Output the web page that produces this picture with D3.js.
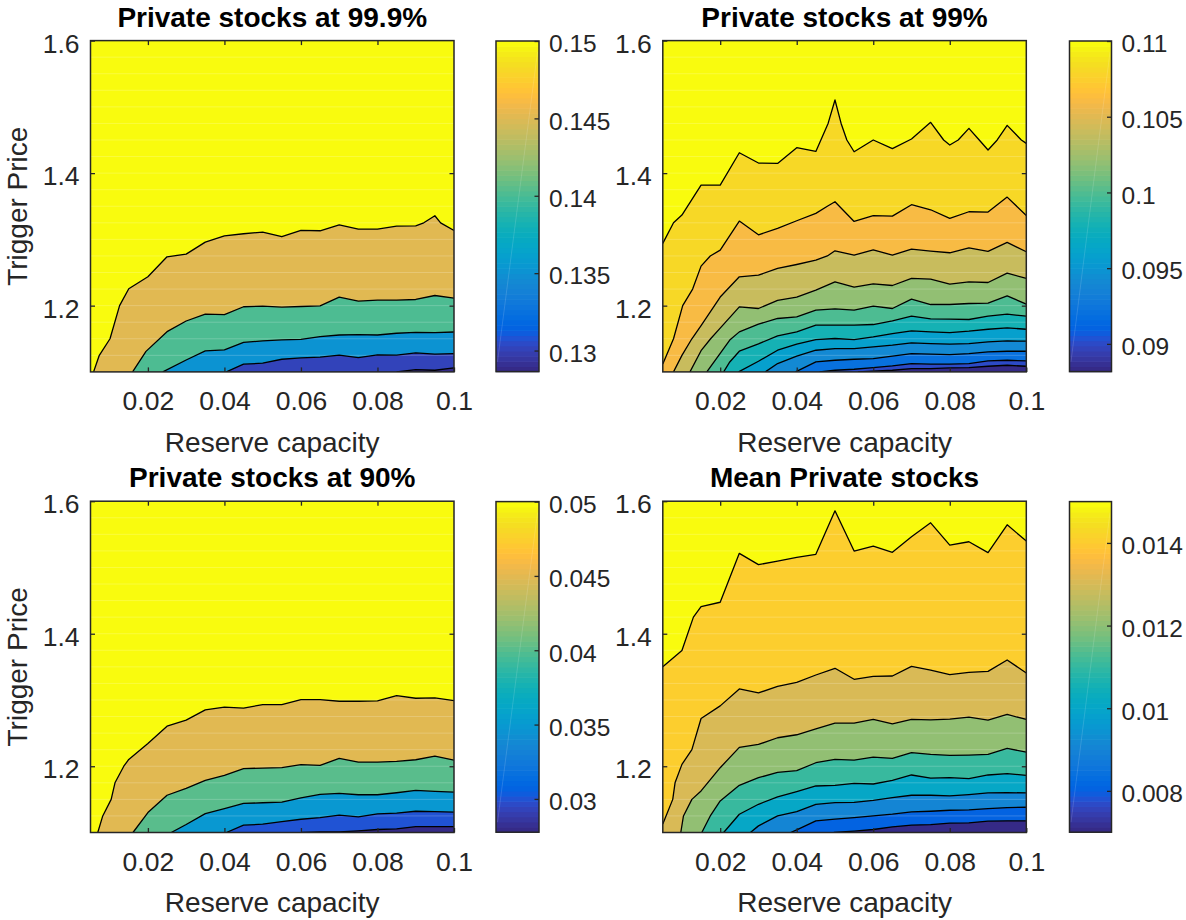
<!DOCTYPE html>
<html>
<head>
<meta charset="utf-8">
<script src="https://cdn.jsdelivr.net/npm/d3@7"></script>
<style>
  body { margin: 0; background: #fff; }
  svg text { font-family: "Liberation Sans", Arial, Helvetica, sans-serif; }
</style>
</head>
<body>
<svg id="chart" width="1186" height="920"></svg>
<script>
// ---------- shared axes ----------
const xDomain = [0.005, 0.1];          // reserve capacity
const yDomain = [1.1, 1.6];            // trigger price
const xTicks = [0.02, 0.04, 0.06, 0.08, 0.1];
const xTickLabels = ["0.02", "0.04", "0.06", "0.08", "0.1"];
const yTicks = [1.2, 1.4, 1.6];
const yTickLabels = ["1.2", "1.4", "1.6"];
const xLabel = "Reserve capacity";
const yLabel = "Trigger Price";

// ---------- Private stocks at 99.9% ----------
const q999Title = "Private stocks at 99.9%";
const q999Range = [0.12864, 0.15];
const q999Ticks = [0.13, 0.135, 0.14, 0.145, 0.15];
const q999TickLabels = ["0.13", "0.135", "0.14", "0.145", "0.15"];
const q999Levels = [0.13, 0.135, 0.14, 0.145, 0.15];
const q999Lines = [
  [[0.085,1.1],[0.09,1.1035],[0.095,1.1025],[0.1,1.106]],
  [[0.0405,1.1],[0.045,1.1116],[0.05,1.1131],[0.055,1.1191],[0.06,1.1211],[0.065,1.1222],[0.07,1.1252],[0.075,1.1217],[0.08,1.1257],[0.085,1.1252],[0.09,1.1287],[0.095,1.1267],[0.1,1.1277]],
  [[0.0239,1.1],[0.03,1.118],[0.035,1.1316],[0.04,1.1331],[0.045,1.1447],[0.05,1.1467],[0.055,1.1482],[0.06,1.1492],[0.065,1.1532],[0.07,1.1557],[0.075,1.1562],[0.08,1.1557],[0.085,1.1583],[0.09,1.1598],[0.095,1.1592],[0.1,1.1602]],
  [[0.016,1.1],[0.0195,1.131],[0.025,1.1607],[0.03,1.1768],[0.035,1.1873],[0.04,1.1863],[0.045,1.1983],[0.05,1.1992],[0.055,1.1977],[0.06,1.1987],[0.065,1.1997],[0.07,1.2128],[0.075,1.2067],[0.08,1.2083],[0.085,1.2083],[0.09,1.2093],[0.095,1.2153],[0.1,1.2113]],
  [[0.0058,1.1],[0.0073,1.125],[0.0101,1.15],[0.0126,1.2],[0.015,1.2255],[0.02,1.2435],[0.025,1.2737],[0.03,1.2777],[0.035,1.2959],[0.04,1.3054],[0.045,1.3085],[0.05,1.311],[0.055,1.304],[0.06,1.3135],[0.065,1.313],[0.07,1.322],[0.075,1.3155],[0.08,1.3155],[0.085,1.32],[0.09,1.3205],[0.0921,1.325],[0.095,1.3357],[0.0965,1.325],[0.1,1.3135]]
];

// ---------- Private stocks at 99% ----------
const q99Title = "Private stocks at 99%";
const q99Range = [0.08817, 0.11];
const q99Ticks = [0.09, 0.095, 0.1, 0.105, 0.11];
const q99TickLabels = ["0.09", "0.095", "0.1", "0.105", "0.11"];
const q99Levels = [0.09, 0.092, 0.094, 0.096, 0.098, 0.1, 0.102, 0.104, 0.106, 0.108, 0.11];
const q99Lines = [
  [[0.056,1.1],[0.065,1.1025],[0.07,1.105],[0.075,1.105],[0.08,1.106],[0.085,1.1065],[0.09,1.1085],[0.095,1.11],[0.1,1.1085]],
  [[0.046,1.1],[0.05,1.1025],[0.055,1.104],[0.06,1.1065],[0.065,1.1091],[0.07,1.1126],[0.075,1.1116],[0.08,1.1116],[0.085,1.1126],[0.09,1.1166],[0.095,1.1176],[0.1,1.1166]],
  [[0.0397,1.1],[0.045,1.1151],[0.05,1.1176],[0.055,1.1191],[0.06,1.1201],[0.065,1.1237],[0.07,1.1277],[0.075,1.1267],[0.08,1.1262],[0.085,1.1277],[0.09,1.1302],[0.095,1.1312],[0.1,1.1312]],
  [[0.0318,1.1],[0.035,1.1126],[0.04,1.1237],[0.045,1.1327],[0.05,1.1352],[0.055,1.1352],[0.06,1.1377],[0.065,1.1403],[0.07,1.1438],[0.075,1.1428],[0.08,1.1418],[0.085,1.1428],[0.09,1.1453],[0.095,1.1468],[0.1,1.1463]],
  [[0.0248,1.1],[0.03,1.1161],[0.035,1.1327],[0.04,1.1418],[0.045,1.1488],[0.05,1.1504],[0.055,1.1488],[0.06,1.1528],[0.065,1.1579],[0.07,1.1619],[0.075,1.1604],[0.08,1.1594],[0.085,1.1614],[0.09,1.1644],[0.095,1.1664],[0.1,1.1644]],
  [[0.0209,1.1],[0.0225,1.115],[0.025,1.1312],[0.03,1.1423],[0.035,1.1544],[0.04,1.1604],[0.045,1.1705],[0.05,1.1705],[0.055,1.1705],[0.06,1.1715],[0.065,1.177],[0.07,1.1841],[0.075,1.1801],[0.08,1.1796],[0.085,1.1791],[0.09,1.1841],[0.095,1.1871],[0.1,1.1841]],
  [[0.0165,1.1],[0.02,1.128],[0.0225,1.148],[0.025,1.1604],[0.03,1.172],[0.035,1.1806],[0.04,1.1831],[0.045,1.1931],[0.05,1.1952],[0.055,1.1931],[0.06,1.1992],[0.065,1.1957],[0.07,1.2098],[0.075,1.2017],[0.08,1.2017],[0.085,1.2032],[0.09,1.2037],[0.095,1.2148],[0.1,1.2022]],
  [[0.0121,1.1],[0.015,1.132],[0.0175,1.15],[0.02,1.166],[0.025,1.1982],[0.03,1.1957],[0.035,1.2078],[0.04,1.2128],[0.045,1.2234],[0.05,1.2359],[0.055,1.2279],[0.06,1.2329],[0.065,1.2304],[0.07,1.241],[0.075,1.24],[0.08,1.2324],[0.085,1.2359],[0.09,1.2349],[0.095,1.249],[0.1,1.241]],
  [[0.0078,1.1],[0.01,1.125],[0.0126,1.15],[0.015,1.17],[0.02,1.213],[0.025,1.2435],[0.03,1.246],[0.035,1.2561],[0.04,1.2621],[0.045,1.2687],[0.048,1.275],[0.05,1.2828],[0.055,1.2762],[0.06,1.2843],[0.065,1.2762],[0.07,1.2853],[0.075,1.2823],[0.08,1.2798],[0.085,1.2873],[0.09,1.2818],[0.095,1.2954],[0.1,1.2813]],
  [[0.005,1.112],[0.0078,1.15],[0.0102,1.2],[0.0128,1.225],[0.015,1.2596],[0.0174,1.275],[0.02,1.2838],[0.025,1.3276],[0.03,1.3069],[0.035,1.3165],[0.04,1.3281],[0.045,1.3392],[0.048,1.35],[0.05,1.3568],[0.055,1.3271],[0.06,1.3357],[0.065,1.3351],[0.07,1.3523],[0.075,1.3447],[0.08,1.3316],[0.085,1.3417],[0.09,1.3412],[0.095,1.3638],[0.1,1.3361]],
  [[0.005,1.2939],[0.0078,1.325],[0.01,1.3367],[0.015,1.382],[0.02,1.382],[0.025,1.4308],[0.03,1.4152],[0.035,1.4147],[0.04,1.4384],[0.045,1.4328],[0.0482,1.475],[0.05,1.5104],[0.0516,1.475],[0.0531,1.45],[0.055,1.4323],[0.06,1.45],[0.065,1.4369],[0.07,1.4515],[0.075,1.4766],[0.0784,1.45],[0.08,1.4424],[0.0822,1.45],[0.085,1.4676],[0.0877,1.45],[0.09,1.4349],[0.0924,1.45],[0.095,1.4721],[0.0987,1.45],[0.1,1.4449]]
];

// ---------- Private stocks at 90% ----------
const q90Title = "Private stocks at 90%";
const q90Range = [0.02776, 0.05];
const q90Ticks = [0.03, 0.035, 0.04, 0.045, 0.05];
const q90TickLabels = ["0.03", "0.035", "0.04", "0.045", "0.05"];
const q90Levels = [0.03, 0.035, 0.04, 0.045, 0.05];
const q90Lines = [
  [[0.06,1.1],[0.065,1.101],[0.07,1.101],[0.075,1.1025],[0.08,1.1045],[0.085,1.1055],[0.09,1.109],[0.095,1.109],[0.1,1.109]],
  [[0.0405,1.1],[0.045,1.111],[0.05,1.1125],[0.055,1.1165],[0.06,1.12],[0.065,1.1226],[0.07,1.1261],[0.075,1.1236],[0.08,1.1281],[0.085,1.1291],[0.09,1.1321],[0.095,1.1316],[0.1,1.1306]],
  [[0.0261,1.1],[0.03,1.112],[0.035,1.1284],[0.04,1.1359],[0.045,1.1439],[0.05,1.1449],[0.055,1.1459],[0.06,1.1524],[0.065,1.1575],[0.07,1.159],[0.075,1.157],[0.08,1.157],[0.085,1.16],[0.09,1.1635],[0.095,1.162],[0.1,1.161]],
  [[0.0161,1.1],[0.02,1.1301],[0.025,1.1562],[0.03,1.1667],[0.035,1.1787],[0.04,1.1863],[0.045,1.1963],[0.05,1.1973],[0.055,1.1978],[0.06,1.2023],[0.065,1.2013],[0.07,1.2118],[0.075,1.2063],[0.08,1.2063],[0.085,1.2073],[0.09,1.2098],[0.095,1.2153],[0.1,1.2093]],
  [[0.0069,1.1],[0.0082,1.125],[0.0104,1.15],[0.0114,1.175],[0.0137,1.2],[0.015,1.2103],[0.02,1.2344],[0.025,1.2605],[0.03,1.2695],[0.035,1.2851],[0.04,1.2891],[0.045,1.2876],[0.05,1.2931],[0.055,1.2931],[0.06,1.3006],[0.065,1.3006],[0.07,1.2981],[0.075,1.2981],[0.08,1.2986],[0.085,1.3066],[0.09,1.3026],[0.095,1.3031],[0.1,1.2991]]
];

// ---------- Mean private stocks ----------
const meanTitle = "Mean Private stocks";
const meanRange = [0.007, 0.015];
const meanTicks = [0.008, 0.01, 0.012, 0.014];
const meanTickLabels = ["0.008", "0.01", "0.012", "0.014"];
const meanLevels = [0.008, 0.009, 0.01, 0.011, 0.012, 0.013, 0.014, 0.015];
const meanLines = [
  [[0.0497,1.1],[0.055,1.102],[0.06,1.1045],[0.065,1.1085],[0.07,1.111],[0.075,1.112],[0.08,1.114],[0.085,1.1146],[0.09,1.1171],[0.095,1.1176],[0.1,1.1176]],
  [[0.0384,1.1],[0.04,1.104],[0.045,1.1176],[0.05,1.1201],[0.055,1.1226],[0.06,1.1251],[0.065,1.1276],[0.07,1.1311],[0.075,1.1321],[0.08,1.1336],[0.085,1.1341],[0.09,1.1361],[0.095,1.1376],[0.1,1.1381]],
  [[0.0279,1.1],[0.03,1.11],[0.035,1.1251],[0.04,1.1316],[0.045,1.1426],[0.05,1.1451],[0.055,1.1456],[0.06,1.1486],[0.065,1.1527],[0.07,1.1562],[0.075,1.1562],[0.08,1.1552],[0.085,1.1572],[0.09,1.1597],[0.095,1.1602],[0.1,1.1597]],
  [[0.0209,1.1],[0.025,1.1276],[0.03,1.1426],[0.035,1.1537],[0.04,1.1617],[0.045,1.1702],[0.05,1.1712],[0.055,1.1742],[0.06,1.1732],[0.065,1.1787],[0.07,1.1868],[0.075,1.1822],[0.08,1.1827],[0.085,1.1812],[0.09,1.1868],[0.095,1.1888],[0.1,1.1863]],
  [[0.0152,1.1],[0.0175,1.126],[0.02,1.1477],[0.025,1.1712],[0.03,1.1827],[0.035,1.1908],[0.04,1.1933],[0.045,1.2053],[0.05,1.2103],[0.055,1.2093],[0.06,1.2138],[0.065,1.2118],[0.07,1.2204],[0.075,1.2179],[0.08,1.2164],[0.085,1.2169],[0.09,1.2179],[0.095,1.2269],[0.1,1.2214]],
  [[0.0097,1.1],[0.0104,1.125],[0.0126,1.15],[0.015,1.1627],[0.02,1.1978],[0.025,1.2284],[0.03,1.2329],[0.035,1.243],[0.04,1.2475],[0.045,1.2565],[0.05,1.2651],[0.055,1.2651],[0.06,1.2706],[0.065,1.2641],[0.07,1.2706],[0.075,1.2701],[0.08,1.2711],[0.085,1.2741],[0.09,1.2696],[0.095,1.2781],[0.1,1.2706]],
  [[0.005,1.113],[0.0076,1.15],[0.0082,1.175],[0.01,1.2028],[0.0126,1.225],[0.015,1.272],[0.02,1.2911],[0.025,1.3167],[0.03,1.3106],[0.035,1.3207],[0.04,1.3267],[0.045,1.3377],[0.05,1.3478],[0.055,1.3312],[0.06,1.3357],[0.065,1.3362],[0.07,1.3508],[0.075,1.3452],[0.08,1.3382],[0.085,1.3417],[0.09,1.3432],[0.095,1.3603],[0.1,1.3407]],
  [[0.005,1.35],[0.01,1.3748],[0.013,1.425],[0.015,1.441],[0.02,1.4475],[0.025,1.5213],[0.03,1.5042],[0.035,1.5097],[0.04,1.5152],[0.045,1.5198],[0.05,1.5855],[0.055,1.5248],[0.06,1.5323],[0.065,1.5228],[0.07,1.5463],[0.075,1.5674],[0.08,1.5338],[0.085,1.5388],[0.09,1.5223],[0.095,1.5644],[0.1,1.5398]]
];

// ---------- parula colormap (64 steps) ----------
const parula = [
  [0.2081,0.1663,0.5292],[0.2116,0.1898,0.5777],[0.2123,0.2138,0.6270],[0.2081,0.2386,0.6771],
  [0.1959,0.2645,0.7279],[0.1707,0.2919,0.7792],[0.1253,0.3242,0.8303],[0.0591,0.3598,0.8683],
  [0.0117,0.3875,0.8820],[0.0060,0.4086,0.8828],[0.0165,0.4266,0.8786],[0.0329,0.4430,0.8720],
  [0.0498,0.4586,0.8641],[0.0629,0.4737,0.8554],[0.0723,0.4887,0.8467],[0.0779,0.5040,0.8384],
  [0.0793,0.5200,0.8312],[0.0749,0.5375,0.8263],[0.0641,0.5570,0.8240],[0.0488,0.5772,0.8228],
  [0.0343,0.5966,0.8199],[0.0265,0.6137,0.8135],[0.0239,0.6287,0.8038],[0.0231,0.6418,0.7913],
  [0.0228,0.6535,0.7768],[0.0267,0.6642,0.7607],[0.0384,0.6743,0.7436],[0.0590,0.6838,0.7254],
  [0.0843,0.6928,0.7062],[0.1133,0.7015,0.6859],[0.1453,0.7098,0.6646],[0.1801,0.7177,0.6424],
  [0.2178,0.7250,0.6193],[0.2586,0.7317,0.5954],[0.3022,0.7376,0.5712],[0.3482,0.7424,0.5473],
  [0.3953,0.7459,0.5244],[0.4420,0.7481,0.5033],[0.4871,0.7491,0.4840],[0.5300,0.7491,0.4661],
  [0.5709,0.7485,0.4494],[0.6099,0.7473,0.4337],[0.6473,0.7456,0.4188],[0.6834,0.7435,0.4044],
  [0.7184,0.7411,0.3905],[0.7525,0.7384,0.3768],[0.7858,0.7356,0.3633],[0.8185,0.7327,0.3498],
  [0.8507,0.7299,0.3360],[0.8824,0.7274,0.3217],[0.9139,0.7258,0.3063],[0.9450,0.7261,0.2886],
  [0.9739,0.7314,0.2666],[0.9938,0.7455,0.2403],[0.9990,0.7653,0.2164],[0.9955,0.7861,0.1967],
  [0.9880,0.8066,0.1794],[0.9789,0.8271,0.1633],[0.9697,0.8481,0.1475],[0.9626,0.8705,0.1309],
  [0.9589,0.8949,0.1132],[0.9598,0.9218,0.0948],[0.9661,0.9514,0.0755],[0.9763,0.9831,0.0538]
].map(c => d3.rgb(c[0] * 255, c[1] * 255, c[2] * 255).formatHex());

// ---------- layout ----------
const plotW = 363.5, plotH = 331.3;
const cbarH = 330.6;
const panels = [
  { title: q999Title, levels: q999Levels, lines: q999Lines, range: q999Range, cTicks: q999Ticks, cLabels: q999TickLabels,
    left: 90.5, top: 40.6, cbLeft: 496, cbW: 43, showYLabel: true },
  { title: q99Title, levels: q99Levels, lines: q99Lines, range: q99Range, cTicks: q99Ticks, cLabels: q99TickLabels,
    left: 662.8, top: 40.6, cbLeft: 1069.5, cbW: 42, showYLabel: false },
  { title: q90Title, levels: q90Levels, lines: q90Lines, range: q90Range, cTicks: q90Ticks, cLabels: q90TickLabels,
    left: 90.5, top: 501.2, cbLeft: 496, cbW: 43, showYLabel: true },
  { title: meanTitle, levels: meanLevels, lines: meanLines, range: meanRange, cTicks: meanTicks, cLabels: meanTickLabels,
    left: 662.8, top: 501.2, cbLeft: 1069.5, cbW: 42, showYLabel: false }
];

const ink = "#262626";
const tickFont = 26.5, cbFont = 24.5, labelFont = 28, titleFont = 28;
const svg = d3.select("#chart");

function styleAxis(sel, fontSize) {
  sel.select(".domain").remove();
  sel.attr("font-family", null).attr("font-size", null);
  sel.selectAll(".tick line").attr("stroke", ink).attr("stroke-width", 1.3);
  sel.selectAll(".tick text").attr("fill", ink).style("font-size", fontSize + "px");
}

panels.forEach((p, i) => {
  const x = d3.scaleLinear().domain(xDomain).range([0, plotW]);
  const y = d3.scaleLinear().domain(yDomain).range([plotH, 0]);
  const [c0, c1] = p.range;
  const colorOf = v => parula[Math.max(0, Math.min(63, Math.floor((v - c0) / (c1 - c0) * 64 + 1e-9)))];

  const g = svg.append("g").attr("transform", `translate(${p.left},${p.top})`);
  g.append("clipPath").attr("id", "clip" + i)
    .append("rect").attr("width", plotW).attr("height", plotH);
  const area = g.append("g").attr("clip-path", `url(#clip${i})`);

  // lowest band, below the first contour level
  area.append("rect").attr("width", plotW).attr("height", plotH).attr("fill", parula[0]);

  const line = d3.line().x(d => x(d[0])).y(d => y(d[1]));

  // filled bands: paint the region above each level, lowest level first
  p.levels.forEach((lv, k) => {
    const ring = p.lines[k].concat([
      [xDomain[1], yDomain[1]], [xDomain[0], yDomain[1]], [xDomain[0], yDomain[0]]
    ]);
    area.append("path").attr("d", line(ring) + "Z").attr("fill", colorOf(lv));
  });

  // faint rendering seams along the sampling rows
  area.append("g").selectAll("line")
    .data(d3.range(yDomain[0] + 0.025, yDomain[1] - 0.001, 0.025))
    .join("line")
    .attr("x1", 0).attr("x2", plotW)
    .attr("y1", d => y(d)).attr("y2", d => y(d))
    .attr("stroke", "#ffffff").attr("stroke-opacity", 0.2).attr("stroke-width", 1);

  // contour lines
  area.append("g").selectAll("path")
    .data(p.lines)
    .join("path")
    .attr("d", line)
    .attr("fill", "none")
    .attr("stroke", "#000")
    .attr("stroke-width", 1.3)
    .attr("stroke-linejoin", "round");

  // axes with inward ticks on all four sides
  g.append("g").attr("transform", `translate(0,${plotH})`)
    .call(d3.axisBottom(x).tickValues(xTicks).tickFormat((d, j) => xTickLabels[j])
      .tickSizeInner(-4.5).tickSizeOuter(0).tickPadding(19.5))
    .call(s => styleAxis(s, tickFont));
  g.append("g")
    .call(d3.axisTop(x).tickValues(xTicks.slice(0, -1)).tickFormat("")
      .tickSizeInner(-4.5).tickSizeOuter(0))
    .call(s => styleAxis(s, tickFont));
  g.append("g")
    .call(d3.axisLeft(y).tickValues(yTicks).tickFormat((d, j) => yTickLabels[j])
      .tickSizeInner(-4.5).tickSizeOuter(0).tickPadding(11))
    .call(s => styleAxis(s, tickFont))
    .call(s => s.selectAll(".tick text").attr("dy", "0.44em"));
  g.append("g").attr("transform", `translate(${plotW},0)`)
    .call(d3.axisRight(y).tickValues(yTicks.slice(0, -1)).tickFormat("")
      .tickSizeInner(-4.5).tickSizeOuter(0))
    .call(s => styleAxis(s, tickFont));

  g.append("rect").attr("width", plotW).attr("height", plotH)
    .attr("fill", "none").attr("stroke", ink).attr("stroke-width", 1.5);

  // title and axis labels
  g.append("text").attr("x", plotW / 2).attr("y", -13.8)
    .attr("text-anchor", "middle").attr("fill", "#000")
    .style("font-size", titleFont + "px").style("font-weight", "bold")
    .text(p.title);
  g.append("text").attr("x", plotW / 2).attr("y", plotH + 80)
    .attr("text-anchor", "middle").attr("fill", ink)
    .style("font-size", labelFont + "px")
    .text(xLabel);
  if (p.showYLabel) {
    g.append("text")
      .attr("transform", `translate(${27 - p.left},${plotH / 2}) rotate(-90)`)
      .attr("text-anchor", "middle").attr("fill", ink)
      .style("font-size", labelFont + "px")
      .text(yLabel);
  }

  // colorbar
  const cy = d3.scaleLinear().domain(p.range).range([cbarH, 0]);
  const cb = svg.append("g").attr("transform", `translate(${p.cbLeft},${p.top + 0.4})`);
  const step = (c1 - c0) / 64;
  cb.append("g").selectAll("rect")
    .data(parula)
    .join("rect")
    .attr("x", 0).attr("width", p.cbW)
    .attr("y", (d, k) => cy(c0 + (k + 1) * step))
    .attr("height", (d, k) => cy(c0 + k * step) - cy(c0 + (k + 1) * step) + 0.6)
    .attr("fill", d => d);
  cb.append("line")
    .attr("x1", 1.5).attr("y1", cbarH - 10).attr("x2", p.cbW - 1.5).attr("y2", 11)
    .attr("stroke", "#ffffff").attr("stroke-opacity", 0.18).attr("stroke-width", 0.8);
  cb.append("g").attr("transform", `translate(${p.cbW},0)`)
    .call(d3.axisRight(cy).tickValues(p.cTicks).tickFormat((d, j) => p.cLabels[j])
      .tickSizeInner(-4.5).tickSizeOuter(0).tickPadding(10))
    .call(s => styleAxis(s, cbFont))
    .call(s => s.selectAll(".tick text").attr("dy", "0.44em"));
  cb.append("rect").attr("width", p.cbW).attr("height", cbarH)
    .attr("fill", "none").attr("stroke", ink).attr("stroke-width", 1.5);
});
</script>
</body>
</html>
